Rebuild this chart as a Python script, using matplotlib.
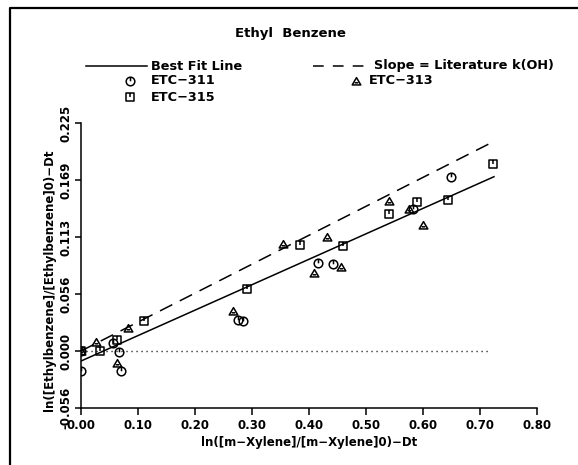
import numpy as np
import matplotlib
matplotlib.use("Agg")
import matplotlib.pyplot as plt
from matplotlib.path import Path
from matplotlib.lines import Line2D

# ---------------- data ----------------
etc311_x = [0.0, 0.0, 0.057, 0.067, 0.071, 0.276, 0.284, 0.415, 0.4415, 0.583, 0.649]
etc311_y = [0.0, -0.0197, 0.0076, -0.001, -0.020, 0.0306, 0.030, 0.0866, 0.0856, 0.140, 0.172]

etc313_x = [0.0, 0.026, 0.063, 0.083, 0.267, 0.355, 0.408, 0.431, 0.4556, 0.541, 0.576, 0.600]
etc313_y = [0.0, 0.0092, -0.012, 0.023, 0.0398, 0.106, 0.0773, 0.1128, 0.0832, 0.148, 0.140, 0.124]

etc315_x = [0.0, 0.033, 0.064, 0.110, 0.2906, 0.384, 0.459, 0.541, 0.590, 0.643, 0.723]
etc315_y = [0.0, 0.0, 0.011, 0.0296, 0.061, 0.1046, 0.1036, 0.135, 0.1474, 0.149, 0.1845]

fit_x = [0.0, 0.7245]
fit_y = [-0.0099, 0.172]
lit_x = [0.0, 0.7235]
lit_y = [0.0, 0.2066]
zero_x = [0.0, 0.7175]
zero_y = [0.0, 0.0]

xticks = [0.0, 0.1, 0.2, 0.3, 0.4, 0.5, 0.6, 0.7, 0.8]
xticklabels = ['0.00', '0.10', '0.20', '0.30', '0.40', '0.50', '0.60', '0.70', '0.80']
yticks = [-0.05625, 0.0, 0.05625, 0.1125, 0.16875, 0.225]
yticklabels = ['-0.056', '0.000', '0.056', '0.113', '0.169', '0.225']

title = 'Ethyl  Benzene'
xlabel = 'ln([m\u2212Xylene]/[m\u2212Xylene]0)\u2212Dt'
ylabel = 'ln([Ethylbenzene]/[Ethylbenzene]0)\u2212Dt'

# ---------------- markers ----------------
circ_tick = Path.make_compound_path(Path.unit_circle(),
                                    Path([[0, 0.05], [0, 1.0]], [Path.MOVETO, Path.LINETO]))
sq = Path([[-1, -1], [1, -1], [1, 1], [-1, 1], [-1, -1]],
          [Path.MOVETO, Path.LINETO, Path.LINETO, Path.LINETO, Path.CLOSEPOLY])
sq_tick = Path.make_compound_path(sq, Path([[0, 1.0], [0, -0.1]], [Path.MOVETO, Path.LINETO]))
tri = Path([[-1, -0.8], [1, -0.8], [0, 0.9], [-1, -0.8]],
           [Path.MOVETO, Path.LINETO, Path.LINETO, Path.CLOSEPOLY])
tri_tick = Path.make_compound_path(tri, Path([[-0.4, -0.3], [0.4, -0.3]], [Path.MOVETO, Path.LINETO]))

W, H = 578, 465
fig = plt.figure(figsize=(W / 100, H / 100), dpi=100)
plt.rcParams['font.family'] = ['DejaVu Sans']
fw = 'bold'

def fx(px):
    return px / W

def fy(py):
    return 1 - py / H

ax = fig.add_axes([fx(81), fy(408), (537 - 81) / W, (408 - 123) / H])
ax.set_xlim(0, 0.8)
ax.set_ylim(-0.05625, 0.225)

ms = 6.2
mew = 1.1
ax.plot(zero_x, zero_y, color='black', lw=1.0, linestyle=(0, (0.8, 2.8)))
ax.plot(fit_x, fit_y, color='black', lw=1.1)
ax.plot(lit_x, lit_y, color='black', lw=1.1, linestyle=(0, (9, 5.5)))
ax.plot(etc311_x, etc311_y, linestyle='none', marker=circ_tick, ms=ms,
        mfc='none', mec='black', mew=mew)
ax.plot(etc313_x, etc313_y, linestyle='none', marker=tri_tick, ms=ms,
        mfc='none', mec='black', mew=mew)
ax.plot(etc315_x, etc315_y, linestyle='none', marker=sq_tick, ms=ms * 0.85,
        mfc='none', mec='black', mew=mew)

for s in ['top', 'right']:
    ax.spines[s].set_visible(False)
for s in ['left', 'bottom']:
    ax.spines[s].set_linewidth(1.1)
ax.set_xticks(xticks)
ax.set_xticklabels(xticklabels, fontsize=8.5, fontweight=fw)
ax.set_yticks(yticks)
ax.set_yticklabels(yticklabels, fontsize=8.5, fontweight=fw, rotation=90, va='center')
ax.tick_params(axis='x', direction='out', length=5, width=1.1, pad=3)
ax.tick_params(axis='y', direction='out', length=4, width=1.1, pad=2)

# axis labels and title
fig.text(fx(309), fy(442), xlabel, ha='center', va='center', fontsize=8.5, fontweight=fw)
fig.text(fx(50), fy(280), ylabel, ha='center', va='center', rotation=90,
         fontsize=8.5, fontweight=fw)
fig.text(fx(290), fy(33), title, ha='center', va='center', fontsize=9.5, fontweight=fw)

# overlay for legend and frame
ov = fig.add_axes([0, 0, 1, 1], zorder=-1)
ov.set_xlim(0, W)
ov.set_ylim(H, 0)
ov.axis('off')
ov.add_line(Line2D([10, 10, W + 5], [H + 5, 8, 8], color='black', lw=1.6))

lfs = 9.3
ov.add_line(Line2D([86, 147], [66, 66], color='black', lw=1.1))
ov.text(151, 66, 'Best Fit Line', fontsize=lfs, fontweight=fw, va='center')
ov.add_line(Line2D([313, 369], [66, 66], color='black', lw=1.1, linestyle=(0, (7, 6))))
ov.text(374, 66, 'Slope = Literature k(OH)', fontsize=lfs, fontweight=fw, va='center')
ov.plot([130], [81], linestyle='none', marker=circ_tick, ms=ms, mfc='none', mec='black', mew=mew)
ov.text(151, 81, 'ETC\u2212311', fontsize=lfs, fontweight=fw, va='center')
ov.plot([356], [81], linestyle='none', marker=tri_tick, ms=ms, mfc='none', mec='black', mew=mew)
ov.text(369, 81, 'ETC\u2212313', fontsize=lfs, fontweight=fw, va='center')
ov.plot([130], [97], linestyle='none', marker=sq_tick, ms=ms * 0.85, mfc='none', mec='black', mew=mew)
ov.text(151, 97, 'ETC\u2212315', fontsize=lfs, fontweight=fw, va='center')

fig.savefig('out.png', dpi=100)
